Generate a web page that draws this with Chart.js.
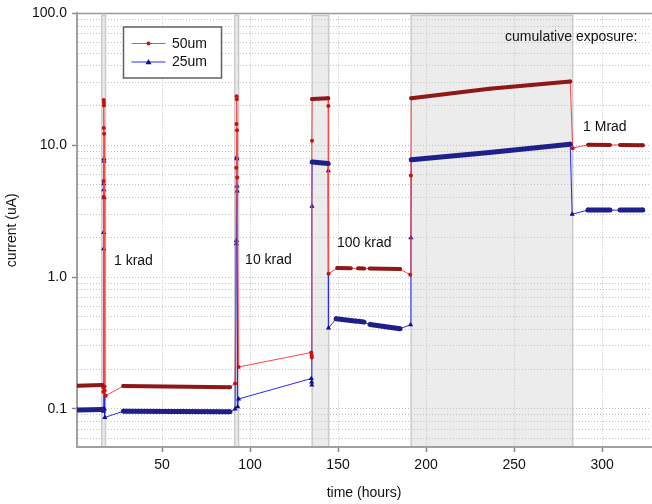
<!DOCTYPE html>
<html>
<head>
<meta charset="utf-8">
<script src="https://cdn.jsdelivr.net/npm/chart.js@4.4.0/dist/chart.umd.min.js"></script>
<style>
  html, body { margin: 0; padding: 0; background: #fff; }
</style>
</head>
<body>
<canvas id="chart" width="652" height="504"></canvas>
<script>
'use strict';

// 50um sample: time (hours) and current (uA)
var time50 = [2, 16.0, 16.6, 16.7, 16.8, 16.8, 16.9, 16.9, 17.0, 17.0, 17.1, 17.3, 17.4, 18.0,
  28.0, 88.6, 91.5, 92.2, 92.3, 92.4, 92.5, 92.6, 92.7, 93.5,
  134.8, 135.0, 135.1, 135.2, 135.3, 144.4, 144.5, 144.6, 149.6, 185.2, 191.0,
  191.4, 191.6, 236.0, 281.9, 283.3, 292.2, 323.1];
var current50 = [0.150, 0.152, 0.145, 0.135, 4.05, 5.35, 13.5, 22.0, 21.0, 20.0, 12.2, 0.148, 0.138, 0.126,
  0.149, 0.146, 0.156, 6.75, 14.5, 23.5, 22.3, 13.0, 5.7, 0.208,
  0.268, 0.255, 0.245, 10.8, 22.4, 22.7, 19.8, 1.06, 1.17, 1.15, 1.04,
  5.9, 22.7, 26.8, 30.5, 9.5, 10.1, 10.0];

// 25um sample
var time25 = [2, 16.0, 16.6, 16.7, 16.8, 16.8, 16.9, 16.9, 17.0, 17.0, 17.1, 17.3, 17.5,
  28.0, 88.6, 91.5, 92.2, 92.3, 92.4, 92.5, 92.6, 92.7, 93.0, 93.5,
  134.8, 135.0, 135.1, 135.2, 135.3, 144.4, 144.5, 144.6, 148.9, 160.6, 164.4, 168.2, 185.2,
  191.2, 191.4, 191.6, 236.0, 281.9, 283.0, 292.0, 323.1];
var current25 = [0.098, 0.099, 0.100, 0.096, 1.64, 2.18, 4.6, 5.1, 7.9, 7.6, 4.0, 0.100, 0.086,
  0.096, 0.095, 0.100, 1.79, 1.89, 8.1, 7.9, 4.9, 4.5, 0.104, 0.119,
  0.170, 0.160, 0.152, 3.45, 7.45, 7.26, 6.4, 0.41, 0.483, 0.463, 0.455, 0.437, 0.406,
  0.435, 1.99, 7.75, 8.8, 10.16, 3.0, 3.22, 3.22];

// stretches of continuous logging (drawn heavy), [time, current]
var runs50 = [
  [[2, 0.150], [16.0, 0.152]],
  [[28.0, 0.149], [88.6, 0.146]],
  [[135.3, 22.4], [144.4, 22.7]],
  [[149.6, 1.17], [157.3, 1.165]],
  [[161.4, 1.165], [164.8, 1.16]],
  [[168.0, 1.16], [185.2, 1.15]],
  [[191.6, 22.7], [236.0, 26.8], [281.9, 30.5]],
  [[292.2, 10.1], [304.5, 10.05]],
  [[310.2, 10.05], [323.1, 10.0]]
];
var runs25 = [
  [[2, 0.098], [16.0, 0.099]],
  [[28.0, 0.096], [88.6, 0.095]],
  [[135.3, 7.45], [144.4, 7.26]],
  [[148.9, 0.483], [160.6, 0.463]],
  [[161.8, 0.462], [164.8, 0.455]],
  [[168.2, 0.437], [185.2, 0.406]],
  [[191.6, 7.75], [236.0, 8.8], [281.9, 10.16]],
  [[292.0, 3.22], [304.5, 3.22]],
  [[310.2, 3.22], [323.1, 3.22]]
];

// irradiation periods (hours)
var exposures = [[15.8, 17.9], [91.3, 93.5], [135.3, 144.7], [191.5, 283.3]];

var notes = [
  { text: '1 krad', t: 22.7, i: 1.33 },
  { text: '10 krad', t: 97.2, i: 1.35 },
  { text: '100 krad', t: 149.4, i: 1.82 },
  { text: 'cumulative exposure:', t: 244.9, i: 66.5 },
  { text: '1 Mrad', t: 289.2, i: 13.6 }
];

var xTickValues = [50, 100, 150, 200, 250, 300];
var yTickValues = [0.1, 1, 10, 100];
var yTickLabels = ['0.1', '1.0', '10.0', '100.0'];

var FONT = 'Liberation Sans, Arial, sans-serif';

function toPoints(times, values) {
  var pts = [];
  for (var i = 0; i < times.length; i++) {
    pts.push({ x: times[i], y: values[i] });
  }
  return pts;
}

function joinRuns(runs) {
  var pts = [];
  for (var r = 0; r < runs.length; r++) {
    if (r > 0) pts.push({ x: runs[r][0][0], y: null });
    for (var k = 0; k < runs[r].length; k++) {
      pts.push({ x: runs[r][k][0], y: runs[r][k][1] });
    }
  }
  return pts;
}

function isDecade(v) {
  return yTickValues.indexOf(v) >= 0;
}

var bandPlugin = {
  id: 'bands',
  beforeDraw: function(chart) {
    var ctx = chart.ctx;
    var area = chart.chartArea;
    var xs = chart.scales.x;
    ctx.save();
    for (var i = 0; i < exposures.length; i++) {
      var x0 = xs.getPixelForValue(exposures[i][0]);
      var x1 = xs.getPixelForValue(exposures[i][1]);
      ctx.fillStyle = '#ececec';
      ctx.fillRect(x0, area.top + 2, x1 - x0, area.bottom - area.top - 2);
      ctx.strokeStyle = '#cbcbcb';
      ctx.lineWidth = 1.5;
      ctx.strokeRect(x0, area.top + 2, x1 - x0, area.bottom - area.top - 2);
    }
    ctx.restore();
  },
  beforeDatasetsDraw: function(chart) {
    var ctx = chart.ctx;
    var area = chart.chartArea;
    ctx.save();
    ctx.strokeStyle = '#9a9a9a';
    ctx.lineWidth = 1.5;
    ctx.beginPath();
    ctx.moveTo(area.left, area.top);
    ctx.lineTo(area.right + 1, area.top);
    ctx.stroke();
    ctx.restore();
  }
};

var notePlugin = {
  id: 'notes',
  afterDraw: function(chart) {
    var ctx = chart.ctx;
    var xs = chart.scales.x;
    var ys = chart.scales.y;
    ctx.save();
    ctx.font = '14px ' + FONT;
    ctx.fillStyle = '#111';
    ctx.textAlign = 'left';
    ctx.textBaseline = 'middle';
    for (var i = 0; i < notes.length; i++) {
      ctx.fillText(notes[i].text, xs.getPixelForValue(notes[i].t), ys.getPixelForValue(notes[i].i));
    }

    // legend box
    var bx = 123.5, by = 27, bw = 98, bh = 51;
    ctx.fillStyle = '#fff';
    ctx.fillRect(bx, by, bw, bh);
    ctx.strokeStyle = '#606060';
    ctx.lineWidth = 1.5;
    ctx.strokeRect(bx, by, bw, bh);
    var sets = chart.data.datasets;
    for (var k = 0; k < 2; k++) {
      var ds = sets[k];
      var ly = by + 16.5 + k * 18.5;
      ctx.strokeStyle = ds.borderColor;
      ctx.lineWidth = 1;
      ctx.beginPath();
      ctx.moveTo(bx + 8, ly);
      ctx.lineTo(bx + 42, ly);
      ctx.stroke();
      ctx.fillStyle = ds.pointBackgroundColor;
      ctx.beginPath();
      if (ds.pointStyle === 'triangle') {
        ctx.moveTo(bx + 25, ly - 3);
        ctx.lineTo(bx + 28, ly + 2.2);
        ctx.lineTo(bx + 22, ly + 2.2);
        ctx.closePath();
      } else {
        ctx.arc(bx + 25, ly, 2, 0, Math.PI * 2);
      }
      ctx.fill();
      ctx.fillStyle = '#111';
      ctx.fillText(ds.label, bx + 48.5, ly + 0.5);
    }
    ctx.restore();
  }
};

var ctx = document.getElementById('chart').getContext('2d');

new Chart(ctx, {
  type: 'line',
  data: {
    datasets: [
      {
        label: '50um',
        order: 2,
        data: toPoints(time50, current50),
        borderColor: '#ff4646',
        borderWidth: 1,
        pointStyle: 'circle',
        pointRadius: 2,
        pointBorderWidth: 0,
        pointBackgroundColor: '#c81010',
        pointBorderColor: '#c81010'
      },
      {
        label: '25um',
        order: 2,
        data: toPoints(time25, current25),
        borderColor: '#2828ff',
        borderWidth: 1,
        pointStyle: 'triangle',
        pointRadius: 3,
        pointBorderWidth: 0,
        pointBackgroundColor: '#10108a',
        pointBorderColor: '#10108a'
      },
      {
        label: '50um steady',
        order: 1,
        data: joinRuns(runs50),
        borderColor: '#8e1717',
        borderWidth: 4,
        borderCapStyle: 'round',
        pointRadius: 0,
        spanGaps: false
      },
      {
        label: '25um steady',
        order: 1,
        data: joinRuns(runs25),
        borderColor: '#1f1f8c',
        borderWidth: 5,
        borderCapStyle: 'round',
        pointRadius: 0,
        spanGaps: false
      }
    ]
  },
  options: {
    responsive: false,
    animation: false,
    layout: { autoPadding: false, padding: { top: 12, right: 1, left: 0, bottom: 0 } },
    elements: { line: { tension: 0 } },
    plugins: {
      legend: { display: false },
      tooltip: { enabled: false }
    },
    scales: {
      x: {
        type: 'linear',
        min: 1.7,
        max: 327.8,
        afterBuildTicks: function(scale) {
          scale.ticks = xTickValues.map(function(v) { return { value: v }; });
        },
        afterFit: function(scale) { scale.height = 57; },
        ticks: {
          autoSkip: false,
          maxRotation: 0,
          padding: 5,
          color: '#111',
          font: { family: FONT, size: 14 },
          callback: function(v) { return String(v); }
        },
        grid: { color: '#c2c2c2', tickLength: 5, tickColor: '#8a8a8a', tickWidth: 1.5 },
        border: { color: '#a0a0a0', width: 2, dash: [1, 2] },
        title: {
          display: true,
          text: 'time (hours)',
          color: '#111',
          font: { family: FONT, size: 14 },
          padding: { top: 0, bottom: 2 }
        }
      },
      y: {
        type: 'logarithmic',
        min: 0.0514,
        max: 100,
        afterBuildTicks: function(scale) {
          var ticks = [];
          for (var e = -2; e <= 2; e++) {
            for (var m = 1; m <= 9; m++) {
              var v = parseFloat((m * Math.pow(10, e)).toPrecision(3));
              if (v >= scale.min && v <= scale.max) ticks.push({ value: v });
            }
          }
          scale.ticks = ticks;
        },
        afterFit: function(scale) { scale.width = 77; },
        ticks: {
          autoSkip: false,
          padding: 5,
          color: '#111',
          font: { family: FONT, size: 14 },
          callback: function(v) {
            var k = yTickValues.indexOf(v);
            return k < 0 ? '' : yTickLabels[k];
          }
        },
        grid: {
          color: '#c2c2c2',
          tickLength: 5,
          tickWidth: 1.5,
          tickColor: function(c) { return c.tick && isDecade(c.tick.value) ? '#8a8a8a' : 'rgba(0,0,0,0)'; }
        },
        border: { color: '#a0a0a0', width: 2, dash: [1, 2] },
        title: {
          display: true,
          text: 'current (uA)',
          color: '#111',
          font: { family: FONT, size: 14 },
          padding: { top: 4, bottom: 0 }
        }
      }
    }
  },
  plugins: [bandPlugin, notePlugin]
});
</script>
</body>
</html>
